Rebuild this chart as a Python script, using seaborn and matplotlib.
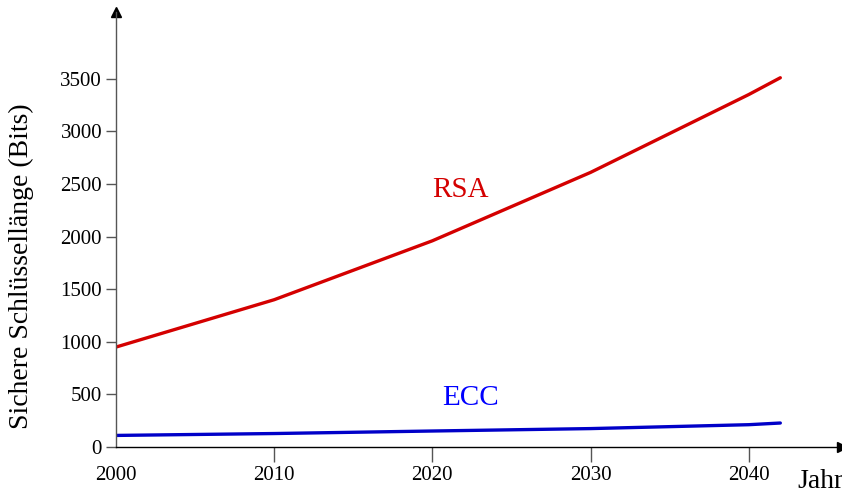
import numpy as np
import matplotlib.pyplot as plt
import pandas as pd
import seaborn as sns

# values
jahre = [2000, 2010, 2020, 2030, 2040, 2042]
rsa_bits = [950, 1400, 1960, 2610, 3350, 3510]
ecc_bits = [110, 128, 152, 175, 212, 228]
y_ticks = [0, 500, 1000, 1500, 2000, 2500, 3000, 3500]
x_ticks = [2000, 2010, 2020, 2030, 2040]

df = pd.DataFrame({"Jahr": jahre * 2,
                   "Bits": rsa_bits + ecc_bits,
                   "Verfahren": ["RSA"] * len(jahre) + ["ECC"] * len(jahre)})

sns.set_style("white")
plt.rcParams["font.family"] = ["Liberation Serif", "DejaVu Serif"]
plt.rcParams["text.color"] = "black"
plt.rcParams["axes.labelcolor"] = "black"
plt.rcParams["xtick.labelcolor"] = "black"
plt.rcParams["ytick.labelcolor"] = "black"

fig = plt.figure(figsize=(8.42, 4.92), dpi=100)
ax = fig.add_axes([116 / 842, 45 / 492, 726 / 842, 435 / 492])

p = sns.lineplot(data=df, x="Jahr", y="Bits", hue="Verfahren",
                 palette={"RSA": "#d40000", "ECC": "#0000c8"},
                 linewidth=2.4, legend=False, ax=ax)

ax.set_xlim(2000, 2045.9)
ax.set_ylim(0, 4135)
ax.set_xticks(x_ticks)
ax.set_yticks(y_ticks)
ax.set_xlabel("")
ax.set_ylabel("Sichere Schlüssellänge (Bits)", fontsize=20)
ax.yaxis.set_label_coords(-0.113, 0.416)
ax.tick_params(axis="x", length=11, width=1, color="#555555", pad=3, labelsize=15, direction="out", bottom=True)
ax.tick_params(axis="y", length=7, width=1, color="#555555", pad=3, labelsize=15, direction="out", left=True)
ax.xaxis.get_major_ticks()[0].tick1line.set_visible(False)

sns.despine(ax=ax)
ax.spines["left"].set_color("#555555")
ax.spines["bottom"].set_color("black")
ax.spines["left"].set_linewidth(1)
ax.spines["bottom"].set_linewidth(1)

# arrow heads on the axes
ax.plot(1, 0, ">k", markersize=7, transform=ax.get_yaxis_transform(), clip_on=False)
ax.plot(2000, 1, "^k", markersize=7, transform=ax.get_xaxis_transform(), clip_on=False)

ax.text(2021.8, 2440, "RSA", color="#d40000", fontsize=21, ha="center", va="center")
ax.text(2022.4, 466, "ECC", color="#0000ff", fontsize=21, ha="center", va="center")
ax.text(2043.1, -330, "Jahr", fontsize=20, ha="left", va="center", clip_on=False)

fig.savefig("out.png", dpi=100)
